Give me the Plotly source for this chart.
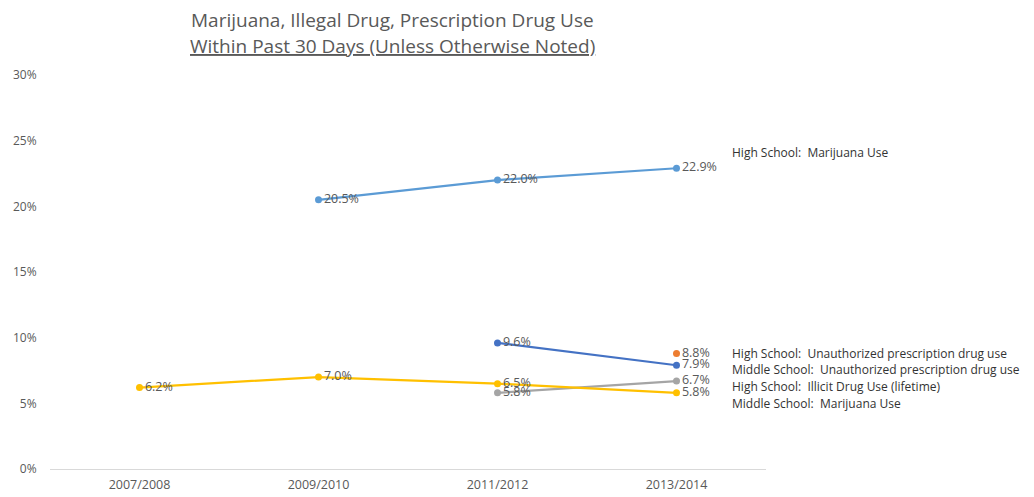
import plotly.graph_objects as go

categories = ["2007/2008", "2009/2010", "2011/2012", "2013/2014"]

hs_marijuana = [None, 20.5, 22.0, 22.9]
hs_rx = [None, None, None, 8.8]
ms_rx = [None, None, 9.6, 7.9]
hs_illicit = [None, None, 5.8, 6.7]
ms_marijuana = [6.2, 7.0, 6.5, 5.8]

series_names = [
    "High School:  Marijuana Use",
    "High School:  Unauthorized prescription drug use",
    "Middle School:  Unauthorized prescription drug use",
    "High School:  Illicit Drug Use (lifetime)",
    "Middle School:  Marijuana Use",
]
series_values = [hs_marijuana, hs_rx, ms_rx, hs_illicit, ms_marijuana]
series_colors = ["#5B9BD5", "#ED7D31", "#4472C4", "#A5A5A5", "#FFC000"]

# label placement (y in data units) for the right-hand legend-style labels
label_y = [24.1, 8.83, 7.55, 6.25, 4.95]

y_ticks = [0, 5, 10, 15, 20, 25, 30]
y_ticktext = ["0%", "5%", "10%", "15%", "20%", "25%", "30%"]

FONT = "Open Sans"

fig = go.Figure()
for name, vals, col in zip(series_names, series_values, series_colors):
    fig.add_trace(go.Scatter(
        x=categories, y=vals, name=name, mode="lines+markers+text",
        line=dict(color=col, width=2.25),
        marker=dict(color=col, size=7),
        texttemplate="%{y:.1f}%", textposition="middle right",
        textfont=dict(family=FONT, size=12.5, color="#595959"),
        connectgaps=False, cliponaxis=False,
    ))

for name, ly in zip(series_names, label_y):
    fig.add_annotation(
        text=name, xref="paper", yref="y", x=(729 - 49.5) / 716, y=ly,
        xanchor="left", yanchor="middle", showarrow=False,
        font=dict(family=FONT, size=12, color="#333333"),
    )

title_x = (392 - 49.5) / 716
fig.add_annotation(
    text="Marijuana, Illegal Drug, Prescription Drug Use",
    xref="paper", yref="paper", x=title_x, y=1 + (75 - 20) / 394,
    xanchor="center", yanchor="middle", showarrow=False,
    font=dict(family=FONT, size=19, color="#595959"),
)
fig.add_annotation(
    text="Within Past 30 Days (Unless Otherwise Noted)",
    xref="paper", yref="paper", x=title_x, y=1 + (75 - 46) / 394,
    xanchor="center", yanchor="middle", showarrow=False,
    font=dict(family=FONT, size=19, color="#595959", lineposition="under"),
)

# page body has an 8px default margin; the figure is sized to fit the window
fig.update_layout(
    width=1026, height=489,
    margin=dict(l=42, r=268, t=67, b=28),
    paper_bgcolor="white", plot_bgcolor="white",
    showlegend=False,
    xaxis=dict(
        type="category", range=[-0.5, 3.5], showgrid=False, zeroline=False,
        showline=True, linecolor="#D9D9D9", linewidth=1,
        tickfont=dict(family=FONT, size=12.5, color="#595959"),
        ticks="outside", ticklen=4, tickcolor="rgba(0,0,0,0)",
        automargin=False,
    ),
    yaxis=dict(
        range=[0, 30], tickvals=y_ticks, ticktext=y_ticktext,
        showgrid=False, zeroline=False, showline=False,
        tickfont=dict(family=FONT, size=12, color="#595959"),
        ticks="outside", ticklen=10, tickcolor="rgba(0,0,0,0)",
        automargin=False,
    ),
)

fig.write_html("out.html")
